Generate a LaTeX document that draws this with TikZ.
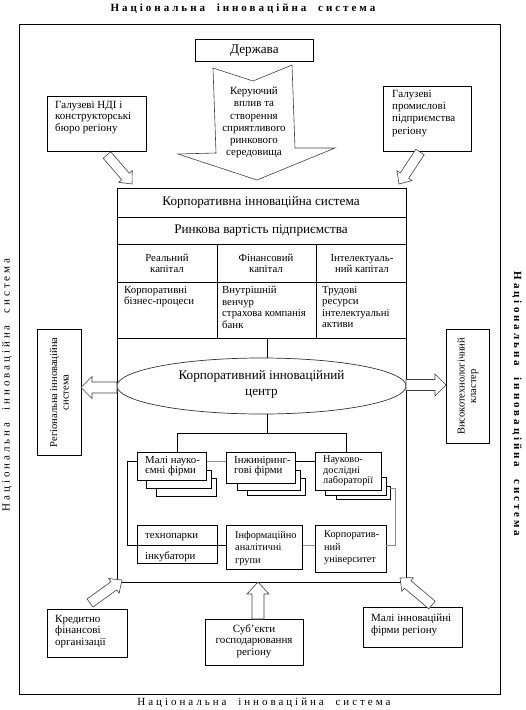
\documentclass[tikz,border=0pt]{standalone}
\usepackage{fontspec}
\setmainfont{Liberation Serif}
\newfontfamily\spacedfont[LetterSpace=27]{Liberation Serif}
\usetikzlibrary{calc,shapes.geometric}
\newcommand\blkarrow[5]{%
  \draw[arrowline]
    ($(#1)!#3!90:(#2)$)
    -- ($($(#2)!#5!(#1)$)!#3!-90:(#1)$)
    -- ($($(#2)!#5!(#1)$)!#4!-90:(#1)$)
    -- (#2)
    -- ($($(#2)!#5!(#1)$)!#4!90:(#1)$)
    -- ($($(#2)!#5!(#1)$)!#3!90:(#1)$)
    -- ($(#1)!#3!-90:(#2)$) -- cycle;}
\newcommand\nistitle{Національна\hspace{6pt} інноваційна\hspace{6pt} система}
\tikzset{
  box/.style={draw, line width=0.8pt, fill=white, inner sep=0pt, anchor=north west},
  arrowline/.style={draw=black!75, line width=0.6pt, fill=white, line join=miter},
  conn/.style={line width=0.7pt},
  gconn/.style={line width=0.7pt, draw=black!45},
  small/.style={font=\fontsize{10.8}{11.5}\selectfont, inner sep=0pt, align=left},
  smallc/.style={font=\fontsize{10.8}{11.5}\selectfont, inner sep=0pt, align=center},
  outer txt/.style={font=\fontsize{11}{11.5}\selectfont, inner sep=0pt, align=left},
  big/.style={font=\fontsize{13.2}{15}\selectfont, inner sep=0pt, align=center},
  title/.style={font=\spacedfont\fontsize{11}{13}\selectfont, inner sep=0pt},
  titleb/.style={font=\spacedfont\bfseries\fontsize{11}{13}\selectfont, inner sep=0pt},
}
\begin{document}
\begin{tikzpicture}[x=1pt,y=-1pt]
\useasboundingbox (0,0) rectangle (526,710);
% outer frame
\node[draw, line width=1pt, inner sep=0pt, anchor=north west, minimum width=481pt, minimum height=670pt] (outer) at (19,24) {};
% titles
\node[titleb] (ttop) at (243,9) {\nistitle};
\node[title] (tbot) at (264,703) {\nistitle};
\node[title, rotate=90] (tleft) at (7,385) {\nistitle};
\node[titleb, rotate=-90] (tright) at (517,404) {\nistitle};

% Derzhava
\node[box, minimum width=118pt, minimum height=22pt] (derzh) at (195,39) {};
\node[big] (derzhT) at (derzh.center) {Держава};
% big arrow
\coordinate (ba1) at (213,68);
\coordinate (ba2) at (253,81);
\coordinate (ba3) at (292,65);
\coordinate (ba4) at (295,148);
\coordinate (ba5) at (335,148);
\coordinate (ba6) at (257,180);
\coordinate (ba7) at (178,154);
\coordinate (ba8) at (216,153);
\draw[arrowline] (ba1) -- (ba2) -- (ba3) -- (ba4) -- (ba5) -- (ba6) -- (ba7) -- (ba8) -- cycle;
\node[outer txt, align=center, font=\fontsize{11}{12.2}\selectfont, anchor=north] (baT) at (254,87) {Керуючий\\вплив та\\створення\\сприятливого\\ринкового\\середовища};

% top side boxes
\node[box, minimum width=99pt, minimum height=55pt] (ndi) at (47,96) {};
\node[outer txt, anchor=north west] (ndiT) at (55,101) {Галузеві НДІ і\\конструкторські\\бюро регіону};
\node[box, minimum width=88pt, minimum height=65pt] (prom) at (383,86) {};
\node[outer txt, font=\fontsize{11}{12.2}\selectfont, anchor=north west] (promT) at (392,90) {Галузеві\\промислові\\підприємства\\регіону};

% corporate system
\node[box, line width=1pt, minimum width=289pt, minimum height=394pt] (corp) at (117,188) {};
\coordinate (r1l) at (117,217); \coordinate (r1r) at (406,217);
\coordinate (r2l) at (117,244.5); \coordinate (r2r) at (406,244.5);
\coordinate (r3l) at (117,282.5); \coordinate (r3r) at (406,282.5);
\coordinate (r4l) at (117,338.5); \coordinate (r4r) at (406,338.5);
\draw[conn] (r1l) -- (r1r) (r2l) -- (r2r) (r3l) -- (r3r) (r4l) -- (r4r);
\coordinate (c1t) at (217,244.5); \coordinate (c1b) at (217,338.5);
\coordinate (c2t) at (316,244.5); \coordinate (c2b) at (316,338.5);
\draw[conn] (c1t) -- (c1b) (c2t) -- (c2b);
\node[big] (kis) at (261,202.5) {Корпоративна інноваційна система};
\node[big] (rvp) at (261,230.5) {Ринкова вартість підприємства};
\node[smallc] (rk) at (167,263.5) {Реальний\\капітал};
\node[smallc] (fk) at (266,263.5) {Фінансовий\\капітал};
\node[smallc] (ik) at (362,263.5) {Інтелектуаль-\\ний капітал};
\node[small, anchor=north west] (kbp) at (124,286) {Корпоративні\\бізнес-процеси};
\node[small, anchor=north west] (vv) at (222,286) {Внутрішній\\венчур\\страхова компанія\\банк};
\node[small, anchor=north west] (tr) at (322,286) {Трудові\\ресурси\\інтелектуальні\\активи};

% ellipse
\node[ellipse, draw=black!80, line width=0.7pt, fill=white, minimum width=289pt, minimum height=56pt, inner sep=0pt] (kic) at (261.5,386) {};
\node[big, font=\fontsize{13.2}{16}\selectfont] (kicT) at (261.5,384) {Корпоративний інноваційний\\центр};
\coordinate (v1) at (267,338.5);
\draw[conn] (v1) -- (v1 |- kic.north);
\coordinate (j0) at (267,413.5);
\coordinate (j1) at (267,433);
\coordinate (jl) at (177,433);
\coordinate (jr) at (346,433);
\coordinate (jlb) at (177,451.5);
\coordinate (jrb) at (346,451.5);
\draw[conn] (j0) -- (j1) (jlb) -- (jl) -- (jr) -- (jrb);

% side boxes
\node[box, minimum width=44pt, minimum height=126pt] (reg) at (37,329) {};
\node[smallc, font=\fontsize{10.5}{11.5}\selectfont, rotate=90] (regT) at (reg.center) {Регіональна інноваційна\\система};
\node[box, minimum width=43pt, minimum height=114pt] (vys) at (446,329) {};
\node[smallc, font=\fontsize{10.5}{11.5}\selectfont, rotate=90] (vysT) at (vys.center) {Високотехнологічний\\кластер};
\coordinate (la0) at (117,387.5); \coordinate (la1) at (81,387.5);
\coordinate (ra0) at (406,385); \coordinate (ra1) at (446,385);
\blkarrow{la0}{la1}{5.5pt}{11pt}{11pt}
\blkarrow{ra0}{ra1}{5.5pt}{11pt}{11pt}

% stacked boxes
\node[box, minimum width=60pt, minimum height=18pt] (b1c) at (156,478) {};
\node[box, minimum width=65pt, minimum height=18pt] (b1b) at (146,470) {};
\node[box, minimum width=69pt, minimum height=28pt] (b1) at (137,451.5) {};
\node[small, anchor=north west, font=\fontsize{10.8}{10.5}\selectfont] (b1T) at (145,456) {Малі науко-\\ємні фірми};
\node[box, minimum width=58pt, minimum height=17pt] (b2c) at (247,478) {};
\node[box, minimum width=63pt, minimum height=20pt] (b2b) at (237,470) {};
\node[box, minimum width=69pt, minimum height=31pt] (b2) at (226,451.5) {};
\node[small, anchor=north west, font=\fontsize{10.8}{10.5}\selectfont] (b2T) at (234,456) {Інжиніринг-\\гові фірми};
\node[box, minimum width=54pt, minimum height=13pt] (b3c) at (336,486) {};
\node[box, minimum width=61pt, minimum height=18pt] (b3b) at (325,477) {};
\node[box, minimum width=66pt, minimum height=38pt] (b3) at (315,451.5) {};
\node[small, font=\fontsize{10.3}{10.5}\selectfont, anchor=north west] (b3T) at (323,456) {Науково-\\дослідні\\лабораторії};

% bottom row boxes
\node[box, minimum width=80pt, minimum height=38pt] (tech) at (137,525) {};
\node[small, anchor=west] (techT1) at (145,537) {технопарки};
\node[small, anchor=west] (techT2) at (145,557) {інкубатори};
\node[box, minimum width=76pt, minimum height=44pt] (info) at (226,525) {};
\node[small, font=\fontsize{10.3}{12.5}\selectfont, anchor=north west] (infoT) at (235,531) {Інформаційно\\аналітичні\\групи};
\node[box, minimum width=71pt, minimum height=47pt] (univ) at (315,525) {};
\node[small, font=\fontsize{10.3}{12.5}\selectfont, anchor=north west] (univT) at (324,531) {Корпоратив-\\ний\\університет};

% connectors among boxes
\coordinate (lp0) at (137,461.5); \coordinate (lp1) at (127.5,461.5);
\coordinate (lp2) at (127.5,545.5); \coordinate (lp3) at (226,545.5);
\draw[conn] (lp0) -- (lp1) -- (lp2) -- (lp3);
\coordinate (rp0) at (390,488); \coordinate (rp1) at (395,488);
\coordinate (rp2) at (395,545); \coordinate (rp3) at (386,545);
\draw[gconn] (rp0) -- (rp1) -- (rp2) -- (rp3);
\draw[gconn] (b1.east |- lp0) -- (b2.west |- lp0);
\draw[conn] (b2.east |- lp0) -- (b3.west |- lp0);
\draw[gconn] (info.east |- rp2) -- (univ.west |- rp2);

% diagonal arrows top
\coordinate (da1) at (107,155); \coordinate (da1t) at (132,184);
\coordinate (da2) at (420,152); \coordinate (da2t) at (399,184);
\blkarrow{da1}{da1t}{5pt}{9pt}{10pt}
\blkarrow{da2}{da2t}{5pt}{9pt}{10pt}

% bottom boxes
\node[box, minimum width=80pt, minimum height=48pt] (kred) at (47,609) {};
\node[outer txt, anchor=north west] (kredT) at (55,615) {Кредитно\\фінансові\\організації};
\node[box, minimum width=98pt, minimum height=46pt] (subj) at (205,619) {};
\node[outer txt, align=center, font=\fontsize{11}{11.8}\selectfont, anchor=north] (subjT) at (254,624) {Суб'єкти\\господарювання\\регіону};
\node[box, minimum width=99pt, minimum height=40pt] (mali) at (363,607) {};
\node[outer txt, font=\fontsize{11}{12}\selectfont, anchor=north west] (maliT) at (371,614) {Малі інноваційні\\фірми регіону};

% bottom arrows
\coordinate (bb1) at (90,603); \coordinate (bb1t) at (122,580);
\coordinate (bb2) at (258,619); \coordinate (bb2t) at (258,582);
\coordinate (bb3) at (432,605); \coordinate (bb3t) at (400,578);
\blkarrow{bb1}{bb1t}{5pt}{9pt}{10pt}
\blkarrow{bb2}{bb2t}{6pt}{11pt}{12pt}
\blkarrow{bb3}{bb3t}{5pt}{9pt}{10pt}
\end{tikzpicture}
\end{document}
